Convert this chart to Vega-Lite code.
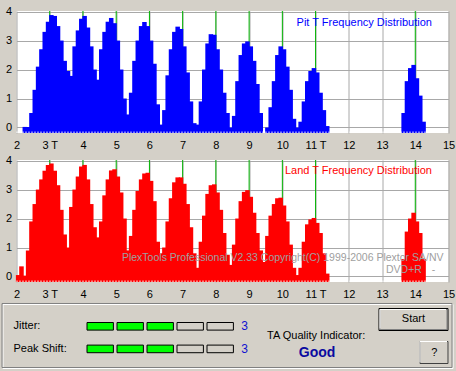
{
  "$schema": "https://vega.github.io/schema/vega-lite/v6.json",
  "background": "#d4d0c8",
  "padding": {"left": 1.5, "top": 5, "right": 10, "bottom": 10},
  "bounds": "flush",
  "spacing": 27,
  "config": {
    "font": "Liberation Sans",
    "view": {"stroke": null},
    "axis": {"labelFont": "Liberation Sans", "labelFontSize": 11, "labelColor": "#000000", "domain": false, "ticks": false, "tickSize": 0, "title": null, "gridColor": "#a8a8a8", "gridWidth": 1, "gridOpacity": 1, "labelFlush": false}
  },
  "datasets": {
    "tmarks": [{"t": 3}, {"t": 4}, {"t": 5}, {"t": 6}, {"t": 7}, {"t": 8}, {"t": 9}, {"t": 10}, {"t": 11}, {"t": 14}],
    "pit": [
      {"t": 2.2, "v": 0.02}, {"t": 2.3, "v": 0.02}, {"t": 2.4, "v": 0.5}, {"t": 2.5, "v": 1.3}, {"t": 2.6, "v": 2.1}, {"t": 2.7, "v": 2.7}, {"t": 2.8, "v": 3.3}, {"t": 2.9, "v": 3.65}, {"t": 3.0, "v": 3.88}, {"t": 3.1, "v": 3.85}, {"t": 3.2, "v": 3.5}, {"t": 3.3, "v": 3.0}, {"t": 3.4, "v": 2.3}, {"t": 3.5, "v": 1.95}, {"t": 3.6, "v": 1.78},
      {"t": 3.7, "v": 2.8}, {"t": 3.8, "v": 3.35}, {"t": 3.9, "v": 3.75}, {"t": 4.0, "v": 3.85}, {"t": 4.1, "v": 3.45}, {"t": 4.2, "v": 2.8}, {"t": 4.3, "v": 2.0}, {"t": 4.4, "v": 1.65},
      {"t": 4.5, "v": 2.7}, {"t": 4.6, "v": 3.3}, {"t": 4.7, "v": 3.65}, {"t": 4.8, "v": 3.78}, {"t": 4.9, "v": 3.6}, {"t": 5.0, "v": 3.0}, {"t": 5.1, "v": 2.0}, {"t": 5.2, "v": 1.0}, {"t": 5.3, "v": 0.45},
      {"t": 5.4, "v": 1.2}, {"t": 5.5, "v": 2.3}, {"t": 5.6, "v": 3.0}, {"t": 5.7, "v": 3.5}, {"t": 5.8, "v": 3.64}, {"t": 5.9, "v": 3.5}, {"t": 6.0, "v": 3.0}, {"t": 6.1, "v": 2.2}, {"t": 6.2, "v": 0.8}, {"t": 6.3, "v": 0.1},
      {"t": 6.4, "v": 0.6}, {"t": 6.5, "v": 1.8}, {"t": 6.6, "v": 2.7}, {"t": 6.7, "v": 3.3}, {"t": 6.8, "v": 3.48}, {"t": 6.9, "v": 3.4}, {"t": 7.0, "v": 2.8}, {"t": 7.1, "v": 1.9}, {"t": 7.2, "v": 0.9}, {"t": 7.3, "v": 0.15},
      {"t": 7.4, "v": 0.1}, {"t": 7.5, "v": 0.9}, {"t": 7.6, "v": 2.0}, {"t": 7.7, "v": 2.9}, {"t": 7.8, "v": 3.22}, {"t": 7.9, "v": 3.2}, {"t": 8.0, "v": 2.7}, {"t": 8.1, "v": 2.0}, {"t": 8.2, "v": 1.2}, {"t": 8.3, "v": 0.5}, {"t": 8.4, "v": 0.0},
      {"t": 8.5, "v": 0.4}, {"t": 8.6, "v": 1.6}, {"t": 8.7, "v": 2.5}, {"t": 8.8, "v": 2.9}, {"t": 8.9, "v": 2.97}, {"t": 9.0, "v": 2.8}, {"t": 9.1, "v": 2.3}, {"t": 9.2, "v": 1.5}, {"t": 9.3, "v": 0.5},
      {"t": 9.5, "v": 0.0}, {"t": 9.6, "v": 0.7}, {"t": 9.7, "v": 1.6}, {"t": 9.8, "v": 2.5}, {"t": 9.9, "v": 2.8}, {"t": 10.0, "v": 2.7}, {"t": 10.1, "v": 2.1}, {"t": 10.2, "v": 1.3}, {"t": 10.3, "v": 0.3}, {"t": 10.4, "v": 0.0},
      {"t": 10.5, "v": 0.2}, {"t": 10.6, "v": 0.9}, {"t": 10.7, "v": 1.6}, {"t": 10.8, "v": 1.95}, {"t": 10.9, "v": 2.05}, {"t": 11.0, "v": 1.9}, {"t": 11.1, "v": 1.2}, {"t": 11.2, "v": 0.6}, {"t": 11.3, "v": 0.05},
      {"t": 13.6, "v": 0.5}, {"t": 13.7, "v": 1.6}, {"t": 13.8, "v": 2.05}, {"t": 13.9, "v": 2.16}, {"t": 14.0, "v": 1.7}, {"t": 14.1, "v": 1.1}, {"t": 14.2, "v": 0.2}
    ],
    "land": [
      {"t": 2.0, "v": 0.05}, {"t": 2.1, "v": 0.35}, {"t": 2.2, "v": 0.03}, {"t": 2.3, "v": 0.9}, {"t": 2.4, "v": 1.9}, {"t": 2.5, "v": 2.5}, {"t": 2.6, "v": 3.0}, {"t": 2.7, "v": 3.35}, {"t": 2.8, "v": 3.65}, {"t": 2.9, "v": 3.85}, {"t": 3.0, "v": 3.9}, {"t": 3.1, "v": 3.65}, {"t": 3.2, "v": 3.15}, {"t": 3.3, "v": 2.3}, {"t": 3.4, "v": 1.45}, {"t": 3.5, "v": 1.0},
      {"t": 3.6, "v": 2.4}, {"t": 3.7, "v": 3.0}, {"t": 3.8, "v": 3.45}, {"t": 3.9, "v": 3.8}, {"t": 4.0, "v": 3.85}, {"t": 4.1, "v": 3.35}, {"t": 4.2, "v": 2.5}, {"t": 4.3, "v": 1.7}, {"t": 4.4, "v": 1.35},
      {"t": 4.5, "v": 1.9}, {"t": 4.6, "v": 2.8}, {"t": 4.7, "v": 3.35}, {"t": 4.8, "v": 3.66}, {"t": 4.9, "v": 3.7}, {"t": 5.0, "v": 3.45}, {"t": 5.1, "v": 2.9}, {"t": 5.2, "v": 2.0}, {"t": 5.3, "v": 0.9},
      {"t": 5.4, "v": 1.4}, {"t": 5.5, "v": 2.3}, {"t": 5.6, "v": 2.95}, {"t": 5.7, "v": 3.35}, {"t": 5.8, "v": 3.55}, {"t": 5.9, "v": 3.58}, {"t": 6.0, "v": 3.3}, {"t": 6.1, "v": 2.6}, {"t": 6.2, "v": 1.2}, {"t": 6.3, "v": 0.8},
      {"t": 6.4, "v": 1.0}, {"t": 6.5, "v": 1.9}, {"t": 6.6, "v": 2.7}, {"t": 6.7, "v": 3.25}, {"t": 6.8, "v": 3.42}, {"t": 6.9, "v": 3.42}, {"t": 7.0, "v": 3.2}, {"t": 7.1, "v": 2.5}, {"t": 7.2, "v": 1.7}, {"t": 7.3, "v": 0.8}, {"t": 7.4, "v": 0.3},
      {"t": 7.5, "v": 1.2}, {"t": 7.6, "v": 2.1}, {"t": 7.7, "v": 2.85}, {"t": 7.8, "v": 3.15}, {"t": 7.9, "v": 3.18}, {"t": 8.0, "v": 2.9}, {"t": 8.1, "v": 2.3}, {"t": 8.2, "v": 1.5}, {"t": 8.3, "v": 0.75}, {"t": 8.4, "v": 0.4},
      {"t": 8.5, "v": 1.1}, {"t": 8.6, "v": 2.0}, {"t": 8.7, "v": 2.6}, {"t": 8.8, "v": 2.92}, {"t": 8.9, "v": 2.98}, {"t": 9.0, "v": 2.75}, {"t": 9.1, "v": 2.2}, {"t": 9.2, "v": 1.5}, {"t": 9.3, "v": 0.9}, {"t": 9.4, "v": 0.5},
      {"t": 9.5, "v": 1.4}, {"t": 9.6, "v": 2.1}, {"t": 9.7, "v": 2.5}, {"t": 9.8, "v": 2.7}, {"t": 9.9, "v": 2.72}, {"t": 10.0, "v": 2.45}, {"t": 10.1, "v": 1.9}, {"t": 10.2, "v": 1.1}, {"t": 10.3, "v": 0.3}, {"t": 10.4, "v": 0.05},
      {"t": 10.5, "v": 0.3}, {"t": 10.6, "v": 1.2}, {"t": 10.7, "v": 1.8}, {"t": 10.8, "v": 1.97}, {"t": 10.9, "v": 2.02}, {"t": 11.0, "v": 1.85}, {"t": 11.1, "v": 1.5}, {"t": 11.2, "v": 0.8}, {"t": 11.3, "v": 0.1},
      {"t": 13.6, "v": 0.6}, {"t": 13.7, "v": 1.55}, {"t": 13.8, "v": 2.0}, {"t": 13.9, "v": 2.2}, {"t": 14.0, "v": 1.9}, {"t": 14.1, "v": 1.5}, {"t": 14.2, "v": 0.6}
    ],
    "metrics": [
      {"metric": "Jitter", "label": "Jitter:", "level": 1, "score": 3},
      {"metric": "Peak Shift", "label": "Peak Shift:", "level": 2, "score": 3}
    ],
    "segments": [
      {"metric": "Jitter", "level": 1, "seg": 1, "lit": "on"}, {"metric": "Jitter", "level": 1, "seg": 2, "lit": "on"}, {"metric": "Jitter", "level": 1, "seg": 3, "lit": "on"}, {"metric": "Jitter", "level": 1, "seg": 4, "lit": "off"}, {"metric": "Jitter", "level": 1, "seg": 5, "lit": "off"},
      {"metric": "Peak Shift", "level": 2, "seg": 1, "lit": "on"}, {"metric": "Peak Shift", "level": 2, "seg": 2, "lit": "on"}, {"metric": "Peak Shift", "level": 2, "seg": 3, "lit": "on"}, {"metric": "Peak Shift", "level": 2, "seg": 4, "lit": "off"}, {"metric": "Peak Shift", "level": 2, "seg": 5, "lit": "off"}
    ]
  },
  "vconcat": [
    {
      "width": 432, "height": 122,
      "view": {"fill": "#ffffff", "stroke": null},
      "layer": [
        {
          "data": {"name": "tmarks"},
          "mark": {"type": "rule", "color": "#00b400", "strokeWidth": 1},
          "encoding": {
            "x": {"field": "t", "type": "quantitative", "scale": {"domain": [2, 15], "nice": false, "zero": false},
                  "axis": {"values": [2, 3, 4, 5, 6, 7, 8, 9, 10, 11, 12, 13, 14, 15], "format": "d", "labelExpr": "datum.value == 3 ? '3 T' : datum.value == 11 ? '11 T' : datum.label", "grid": true, "labelPadding": 6, "labelFlush": false}}
          }
        },
        {
          "data": {"name": "pit"},
          "mark": {"type": "rect", "color": "#0000ff", "xOffset": -0.6, "x2Offset": 3.92},
          "encoding": {
            "x": {"field": "t", "type": "quantitative",
                  "axis": {"values": [2, 3, 4, 5, 6, 7, 8, 9, 10, 11, 12, 13, 14, 15], "format": "d", "labelExpr": "datum.value == 3 ? '3 T' : datum.value == 11 ? '11 T' : datum.label", "grid": true, "labelPadding": 6, "labelFlush": false}},
            "x2": {"field": "t"},
            "y": {"field": "v", "type": "quantitative", "scale": {"domain": [-0.19, 4.02], "nice": false, "zero": false},
                  "axis": {"values": [0, 1, 2, 3, 4], "grid": true, "labelPadding": 5, "labelFlush": false}},
            "y2": {"datum": -0.19}
          }
        },
        {
          "data": {"values": [{}]},
          "mark": {"type": "rule", "color": "#ffffff", "strokeWidth": 1.5, "strokeDash": [1, 2]},
          "encoding": {
            "x": {"datum": 2, "axis": {"values": [2, 3, 4, 5, 6, 7, 8, 9, 10, 11, 12, 13, 14, 15], "format": "d", "labelExpr": "datum.value == 3 ? '3 T' : datum.value == 11 ? '11 T' : datum.label", "grid": true, "labelPadding": 6, "labelFlush": false}},
            "x2": {"datum": 15},
            "y": {"datum": -0.165, "axis": {"values": [0, 1, 2, 3, 4], "grid": true, "labelPadding": 5, "labelFlush": false}}
          }
        },
        {
          "data": {"values": [{}]},
          "mark": {"type": "text", "align": "right", "baseline": "middle", "color": "#0000ff", "fontSize": 11},
          "encoding": {
            "x": {"datum": 14.5, "axis": {"values": [2, 3, 4, 5, 6, 7, 8, 9, 10, 11, 12, 13, 14, 15], "format": "d", "labelExpr": "datum.value == 3 ? '3 T' : datum.value == 11 ? '11 T' : datum.label", "grid": true, "labelPadding": 6, "labelFlush": false}},
            "y": {"datum": 3.61, "axis": {"values": [0, 1, 2, 3, 4], "grid": true, "labelPadding": 5, "labelFlush": false}},
            "text": {"value": "Pit T Frequency Distribution"}
          }
        }
      ]
    },
    {
      "width": 432, "height": 122,
      "view": {"fill": "#ffffff", "stroke": null},
      "layer": [
        {
          "data": {"name": "tmarks"},
          "mark": {"type": "rule", "color": "#00b400", "strokeWidth": 1},
          "encoding": {
            "x": {"field": "t", "type": "quantitative", "scale": {"domain": [2, 15], "nice": false, "zero": false},
                  "axis": {"values": [2, 3, 4, 5, 6, 7, 8, 9, 10, 11, 12, 13, 14, 15], "format": "d", "labelExpr": "datum.value == 3 ? '3 T' : datum.value == 11 ? '11 T' : datum.label", "grid": true, "labelPadding": 6, "labelFlush": false}}
          }
        },
        {
          "data": {"name": "land"},
          "mark": {"type": "rect", "color": "#ff0000", "xOffset": -0.6, "x2Offset": 3.92},
          "encoding": {
            "x": {"field": "t", "type": "quantitative",
                  "axis": {"values": [2, 3, 4, 5, 6, 7, 8, 9, 10, 11, 12, 13, 14, 15], "format": "d", "labelExpr": "datum.value == 3 ? '3 T' : datum.value == 11 ? '11 T' : datum.label", "grid": true, "labelPadding": 6, "labelFlush": false}},
            "x2": {"field": "t"},
            "y": {"field": "v", "type": "quantitative", "scale": {"domain": [-0.19, 4.02], "nice": false, "zero": false},
                  "axis": {"values": [0, 1, 2, 3, 4], "grid": true, "labelPadding": 5, "labelFlush": false}},
            "y2": {"datum": -0.19}
          }
        },
        {
          "data": {"values": [{}]},
          "mark": {"type": "rule", "color": "#ffffff", "strokeWidth": 1.5, "strokeDash": [1, 2]},
          "encoding": {
            "x": {"datum": 2, "axis": {"values": [2, 3, 4, 5, 6, 7, 8, 9, 10, 11, 12, 13, 14, 15], "format": "d", "labelExpr": "datum.value == 3 ? '3 T' : datum.value == 11 ? '11 T' : datum.label", "grid": true, "labelPadding": 6, "labelFlush": false}},
            "x2": {"datum": 15},
            "y": {"datum": -0.165, "axis": {"values": [0, 1, 2, 3, 4], "grid": true, "labelPadding": 5, "labelFlush": false}}
          }
        },
        {
          "data": {"values": [{}]},
          "mark": {"type": "text", "align": "right", "baseline": "middle", "color": "#ff0000", "fontSize": 11},
          "encoding": {
            "x": {"datum": 14.5, "axis": {"values": [2, 3, 4, 5, 6, 7, 8, 9, 10, 11, 12, 13, 14, 15], "format": "d", "labelExpr": "datum.value == 3 ? '3 T' : datum.value == 11 ? '11 T' : datum.label", "grid": true, "labelPadding": 6, "labelFlush": false}},
            "y": {"datum": 3.63, "axis": {"values": [0, 1, 2, 3, 4], "grid": true, "labelPadding": 5, "labelFlush": false}},
            "text": {"value": "Land T Frequency Distribution"}
          }
        },
        {
          "data": {"values": [{}]},
          "mark": {"type": "text", "align": "right", "baseline": "middle", "color": "#a0a0a0", "fontSize": 10.5},
          "encoding": {
            "x": {"datum": 14.85, "axis": {"values": [2, 3, 4, 5, 6, 7, 8, 9, 10, 11, 12, 13, 14, 15], "format": "d", "labelExpr": "datum.value == 3 ? '3 T' : datum.value == 11 ? '11 T' : datum.label", "grid": true, "labelPadding": 6, "labelFlush": false}},
            "y": {"datum": 0.655, "axis": {"values": [0, 1, 2, 3, 4], "grid": true, "labelPadding": 5, "labelFlush": false}},
            "text": {"value": "PlexTools Professional V2.33 Copyright(C) 1999-2006 Plextor SA/NV"}
          }
        },
        {
          "data": {"values": [{}]},
          "mark": {"type": "text", "align": "right", "baseline": "middle", "color": "#a0a0a0", "fontSize": 10.5},
          "encoding": {
            "x": {"datum": 14.2, "axis": {"values": [2, 3, 4, 5, 6, 7, 8, 9, 10, 11, 12, 13, 14, 15], "format": "d", "labelExpr": "datum.value == 3 ? '3 T' : datum.value == 11 ? '11 T' : datum.label", "grid": true, "labelPadding": 6, "labelFlush": false}},
            "y": {"datum": 0.24, "axis": {"values": [0, 1, 2, 3, 4], "grid": true, "labelPadding": 5, "labelFlush": false}},
            "text": {"value": "DVD+R"}
          }
        },
        {
          "data": {"values": [{}]},
          "mark": {"type": "text", "align": "center", "baseline": "middle", "color": "#a0a0a0", "fontSize": 10.5},
          "encoding": {
            "x": {"datum": 14.55, "axis": {"values": [2, 3, 4, 5, 6, 7, 8, 9, 10, 11, 12, 13, 14, 15], "format": "d", "labelExpr": "datum.value == 3 ? '3 T' : datum.value == 11 ? '11 T' : datum.label", "grid": true, "labelPadding": 6, "labelFlush": false}},
            "y": {"datum": 0.24, "axis": {"values": [0, 1, 2, 3, 4], "grid": true, "labelPadding": 5, "labelFlush": false}},
            "text": {"value": "-"}
          }
        }
      ]
    },
    {
      "width": 432, "height": 60,
      "view": {"fill": null, "stroke": null},
      "layer": [
        {
          "data": {"values": [{}]},
          "mark": {"type": "rect", "fill": null, "stroke": "#ffffff", "strokeWidth": 1},
          "encoding": {
            "x": {"datum": -2.24, "type": "quantitative", "scale": {"domain": [-1.79, 12.61], "nice": false, "zero": false}, "axis": null},
            "x2": {"datum": 12.76},
            "y": {"datum": 0.0354, "type": "quantitative", "scale": {"domain": [0.2345, 2.889], "nice": false, "zero": false, "reverse": true}, "axis": null},
            "y2": {"datum": 2.867}
          }
        },
        {
          "data": {"values": [{}]},
          "mark": {"type": "rect", "fill": null, "stroke": "#808080", "strokeWidth": 1},
          "encoding": {"x": {"datum": -2.273, "axis": null}, "x2": {"datum": 12.727}, "y": {"datum": -0.009, "axis": null}, "y2": {"datum": 2.823}}
        },
        {
          "data": {"name": "segments"},
          "mark": {"type": "rect", "xOffset": -13.2, "x2Offset": 13.2, "yOffset": -3.8, "y2Offset": 3.8, "stroke": "#000000", "strokeWidth": 1},
          "encoding": {
            "x": {"field": "seg", "type": "quantitative", "axis": null},
            "x2": {"field": "seg"},
            "y": {"field": "level", "type": "quantitative", "axis": null},
            "y2": {"field": "level"},
            "fill": {"field": "lit", "type": "nominal", "scale": {"domain": ["on", "off"], "range": ["#00ff00", "#d4d0c8"]}, "legend": null}
          }
        },
        {
          "data": {"name": "metrics"},
          "mark": {"type": "text", "align": "left", "baseline": "middle", "color": "#000000", "fontSize": 11},
          "encoding": {"x": {"datum": -1.89, "axis": null}, "y": {"field": "level", "type": "quantitative", "axis": null}, "text": {"field": "label"}}
        },
        {
          "data": {"name": "metrics"},
          "mark": {"type": "text", "align": "center", "baseline": "middle", "color": "#1010d0", "fontSize": 12},
          "encoding": {"x": {"datum": 5.817, "axis": null}, "y": {"field": "level", "type": "quantitative", "axis": null}, "text": {"field": "score"}}
        },
        {
          "data": {"values": [{}]},
          "mark": {"type": "text", "align": "center", "baseline": "middle", "color": "#000000", "fontSize": 11},
          "encoding": {"x": {"datum": 8.2, "axis": null}, "y": {"datum": 1.43, "axis": null}, "text": {"value": "TA Quality Indicator:"}}
        },
        {
          "data": {"values": [{}]},
          "mark": {"type": "text", "align": "center", "baseline": "middle", "color": "#0a0aa0", "fontSize": 14, "fontWeight": "bold"},
          "encoding": {"x": {"datum": 8.23, "axis": null}, "y": {"datum": 2.2, "axis": null}, "text": {"value": "Good"}}
        },
        {
          "data": {"values": [{}]},
          "mark": {"type": "rect", "fill": "#d4d0c8", "stroke": "#000000", "strokeWidth": 1},
          "encoding": {"x": {"datum": 10.293, "axis": null}, "x2": {"datum": 12.593}, "y": {"datum": 0.2124, "axis": null}, "y2": {"datum": 1.186}}
        },
        {
          "data": {"values": [{}]},
          "mark": {"type": "rect", "fill": null, "stroke": "#808080", "strokeWidth": 1},
          "encoding": {"x": {"datum": 10.327, "axis": null}, "x2": {"datum": 12.56}, "y": {"datum": 0.2566, "axis": null}, "y2": {"datum": 1.142}}
        },
        {
          "data": {"values": [{}]},
          "mark": {"type": "rule", "color": "#ffffff", "strokeWidth": 1},
          "encoding": {"x": {"datum": 10.327, "axis": null}, "x2": {"datum": 12.527}, "y": {"datum": 0.2566, "axis": null}}
        },
        {
          "data": {"values": [{}]},
          "mark": {"type": "rule", "color": "#ffffff", "strokeWidth": 1},
          "encoding": {"x": {"datum": 10.327, "axis": null}, "y": {"datum": 0.2566, "axis": null}, "y2": {"datum": 1.10}}
        },
        {
          "data": {"values": [{}]},
          "mark": {"type": "text", "align": "center", "baseline": "middle", "color": "#000000", "fontSize": 11},
          "encoding": {"x": {"datum": 11.44, "axis": null}, "y": {"datum": 0.66, "axis": null}, "text": {"value": "Start"}}
        },
        {
          "data": {"values": [{}]},
          "mark": {"type": "rect", "fill": "#d4d0c8", "stroke": "#404040", "strokeWidth": 1},
          "encoding": {"x": {"datum": 11.66, "axis": null}, "x2": {"datum": 12.593}, "y": {"datum": 1.673, "axis": null}, "y2": {"datum": 2.646}}
        },
        {
          "data": {"values": [{}]},
          "mark": {"type": "rule", "color": "#ffffff", "strokeWidth": 1},
          "encoding": {"x": {"datum": 11.66, "axis": null}, "x2": {"datum": 12.56}, "y": {"datum": 1.673, "axis": null}}
        },
        {
          "data": {"values": [{}]},
          "mark": {"type": "rule", "color": "#ffffff", "strokeWidth": 1},
          "encoding": {"x": {"datum": 11.66, "axis": null}, "y": {"datum": 1.673, "axis": null}, "y2": {"datum": 2.60}}
        },
        {
          "data": {"values": [{}]},
          "mark": {"type": "text", "align": "center", "baseline": "middle", "color": "#000000", "fontSize": 11},
          "encoding": {"x": {"datum": 12.14, "axis": null}, "y": {"datum": 2.18, "axis": null}, "text": {"value": "?"}}
        }
      ]
    }
  ]
}
